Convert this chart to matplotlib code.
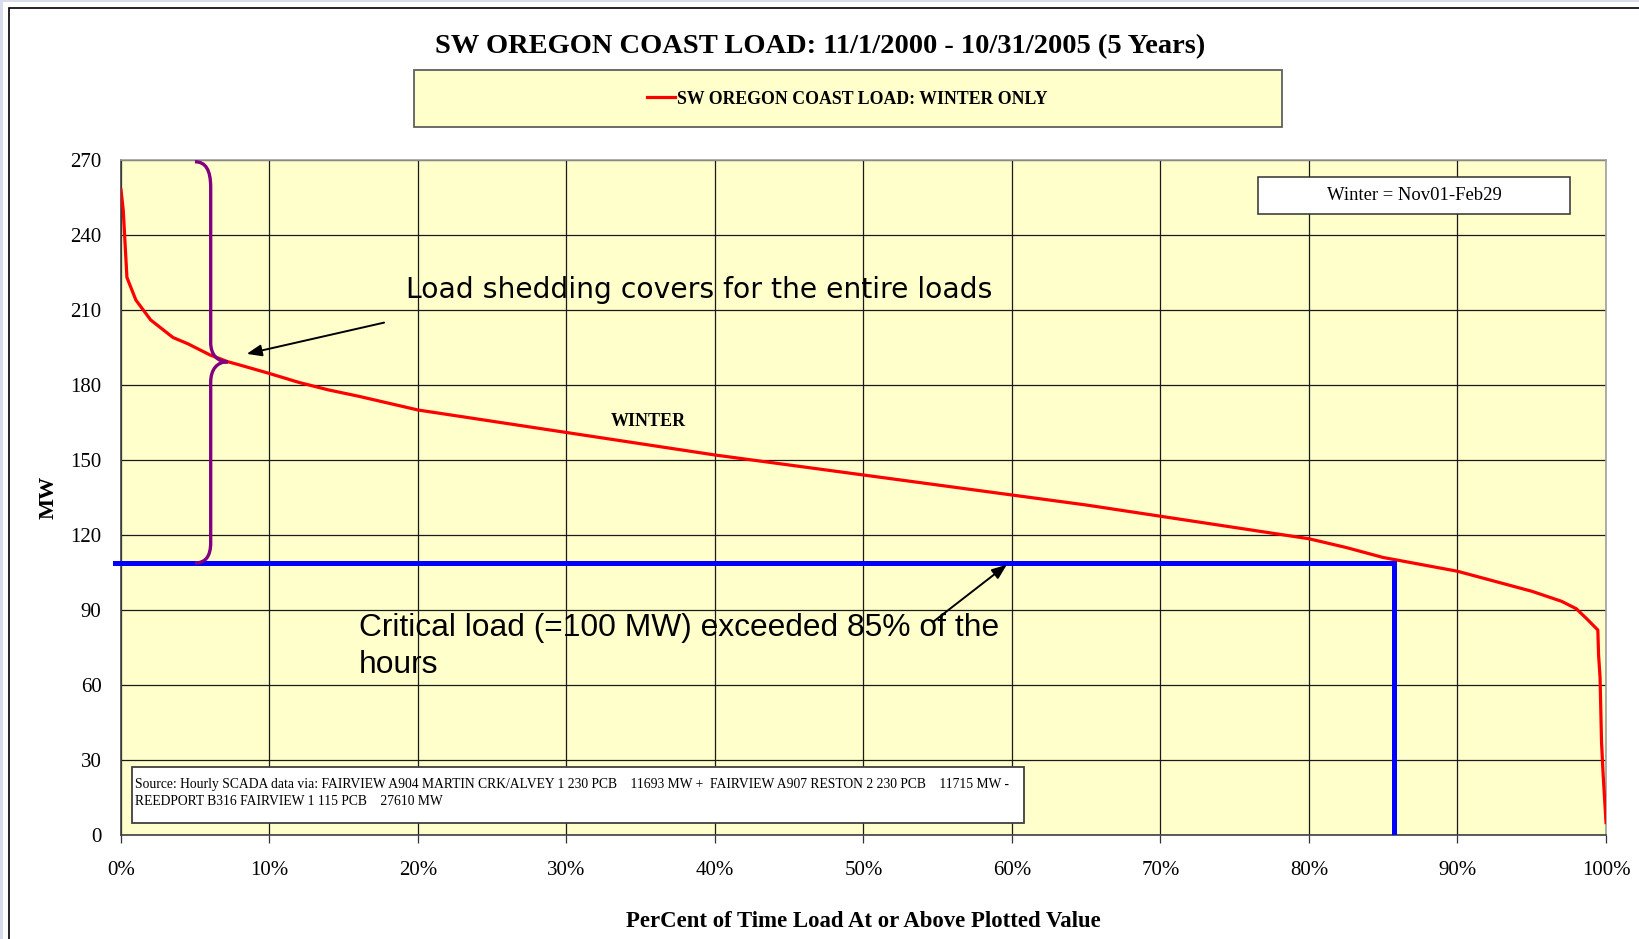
import numpy as np
import matplotlib
matplotlib.use("Agg")
import matplotlib.pyplot as plt
from matplotlib.patches import Rectangle, PathPatch
from matplotlib.path import Path

# duration curve, winter only (percent of time vs MW)
pct = [0, 0.15, 0.4, 1, 2, 3.5, 4.5, 6, 7.2, 8, 10, 12, 14, 16, 20, 25, 30, 35,
       40, 45, 50, 55, 60, 65, 70, 75, 80, 82.5, 85, 90, 92.5, 95, 96, 97, 98,
       98.7, 99.45, 99.5, 99.6, 99.7, 99.8, 100]
mw = [258, 250, 223, 214, 206, 199, 196.5, 192, 189.3, 188, 184.6, 181, 178,
      175.5, 170, 165.5, 161, 156.5, 152, 148, 144, 140, 136, 132, 127.5, 123,
      118.5, 115, 111, 105.5, 101.5, 97.5, 95.5, 93.5, 90.5, 86.5, 82, 72, 63,
      37, 25, 5]

critical_mw = 108.8
critical_pct = 85.7
y_ticks = list(range(0, 271, 30))
x_ticks = list(range(0, 101, 10))
x_labels = [f"{t}%" for t in x_ticks]

serif = "Liberation Serif"
W, H = 1640, 939

fig = plt.figure(figsize=(W / 100, H / 100), dpi=100)

# screenshot frame bits
fig.patches.append(Rectangle((0, 1 - 2 / H), 1, 2 / H, transform=fig.transFigure,
                             facecolor="#d8dcea", edgecolor="none"))
fig.patches.append(Rectangle((0, 0), 3 / W, 1, transform=fig.transFigure,
                             facecolor="#d8dcea", edgecolor="none"))
fig.patches.append(Rectangle((9 / W, -0.1), 1.2, 1 - 8 / H + 0.1, transform=fig.transFigure,
                             facecolor="none", edgecolor="black", lw=1.2))

ax = fig.add_axes([121 / W, 1 - 835 / H, 1485 / W, 675 / H])
ax.set_facecolor("#ffffcc")
ax.set_xlim(0, 100)
ax.set_ylim(0, 270)

line, = ax.plot(pct, mw, color="red", lw=2.3, solid_joinstyle="round", zorder=4,
                label="SW OREGON COAST LOAD: WINTER ONLY")

# critical load lines
ax.plot([-0.4, critical_pct], [critical_mw, critical_mw], color="blue", lw=3.6,
        clip_on=False, zorder=5)
ax.plot([critical_pct, critical_pct], [critical_mw, 0], color="blue", lw=3.6, zorder=5)

# purple brace
verts = [(4.98, 269.3), (5.7, 269.3), (6.04, 266), (6.04, 259),
         (6.04, 197),
         (6.04, 192), (6.5, 189.3), (7.2, 189.3),
         (6.5, 189.3), (6.04, 186.5), (6.04, 181),
         (6.04, 117),
         (6.04, 111.5), (5.7, 108.8), (4.98, 108.8)]
codes = [Path.MOVETO, Path.CURVE4, Path.CURVE4, Path.CURVE4,
         Path.LINETO,
         Path.CURVE4, Path.CURVE4, Path.CURVE4,
         Path.CURVE4, Path.CURVE4, Path.CURVE4,
         Path.LINETO,
         Path.CURVE4, Path.CURVE4, Path.CURVE4]
ax.add_patch(PathPatch(Path(verts, codes), facecolor="none", edgecolor="#800080",
                       lw=2.4, zorder=6, clip_on=False))

ax.set_xticks(x_ticks)
ax.set_xticklabels(x_labels)
ax.set_yticks(y_ticks)
ax.grid(True, color="#1a1a1a", lw=0.9)
ax.set_axisbelow(True)
ax.tick_params(axis="y", length=0, pad=14, labelsize=15)
ax.tick_params(axis="x", length=6, width=0.9, color="#333333", pad=13, labelsize=15)
for lab in ax.get_xticklabels() + ax.get_yticklabels():
    lab.set_fontfamily(serif)
for s in ["top", "right"]:
    ax.spines[s].set_color("#a0a0a0")
for s in ["left", "bottom"]:
    ax.spines[s].set_color("#404040")
for s in ax.spines.values():
    s.set_linewidth(1.2)

ax.set_xlabel("PerCent of Time Load At or Above Plotted Value", fontfamily=serif,
              fontweight="bold", fontsize=16.4)
ax.xaxis.set_label_coords(0.5, -0.112)
ax.set_ylabel("MW", fontfamily=serif, fontweight="bold", fontsize=16)
ax.yaxis.set_label_coords(-0.042, 0.5)

fig.suptitle("SW OREGON COAST LOAD: 11/1/2000 - 10/31/2005 (5 Years)", fontfamily=serif,
             fontweight="bold", fontsize=20.5, y=1 - 47 / H, va="center")

# legend box
fig.patches.append(Rectangle((414 / W, 1 - 126.5 / H), 868 / W, 56.5 / H,
                             transform=fig.transFigure, facecolor="#ffffcc",
                             edgecolor="#606060", lw=1.3, zorder=0.5))
fig.legend(handles=[line], loc="center", bbox_to_anchor=(847 / W, 1 - 99 / H),
           bbox_transform=fig.transFigure, frameon=False, handlelength=1.6,
           handletextpad=0.1, prop={"family": serif, "weight": "bold", "size": 12.8})

# winter box
ax.add_patch(Rectangle((0.7657, 0.92), 0.2101, 0.0553, transform=ax.transAxes,
                       facecolor="white", edgecolor="#303030", lw=1.1, zorder=7))
ax.text(0.8707, 0.9476, "Winter = Nov01-Feb29", transform=ax.transAxes, ha="center",
        va="center", fontfamily=serif, fontsize=13.4, zorder=8)

# source box
ax.add_patch(Rectangle((0.0074, 0.0178), 0.6006, 0.0829, transform=ax.transAxes,
                       facecolor="white", edgecolor="#404040", lw=1.3, zorder=7))
ax.text(0.0092, 0.0622,
        "Source: Hourly SCADA data via: FAIRVIEW A904 MARTIN CRK/ALVEY 1 230 PCB    11693 MW +  "
        "FAIRVIEW A907 RESTON 2 230 PCB    11715 MW -\nREEDPORT B316 FAIRVIEW 1 115 PCB    27610 MW",
        transform=ax.transAxes, ha="left", va="center", fontfamily=serif, fontsize=9.8,
        linespacing=1.35, zorder=8)

ax.text(35.5, 165.4, "WINTER", ha="center", va="center", fontfamily=serif,
        fontweight="bold", fontsize=13, zorder=8)

# annotations
ax.annotate("", xy=(8.28, 192.2), xytext=(17.9, 205.2),
            arrowprops=dict(arrowstyle="-|>,head_length=0.9,head_width=0.35", color="black", lw=1.4),
            zorder=8)
ax.text(19.2, 218, "Load shedding covers for the entire loads", ha="left", va="center",
        fontfamily="DejaVu Sans", fontsize=20.3, zorder=8)

ax.annotate("", xy=(59.8, 108.8), xytext=(54.5, 84.4),
            arrowprops=dict(arrowstyle="-|>,head_length=0.9,head_width=0.35", color="black", lw=1.4),
            zorder=8)
ax.text(16.0, 75.4, "Critical load (=100 MW) exceeded 85% of the\nhours", ha="left", va="center",
        fontfamily="Liberation Sans", fontsize=22.9, linespacing=1.33, zorder=8)

fig.savefig("out.png", dpi=100)
